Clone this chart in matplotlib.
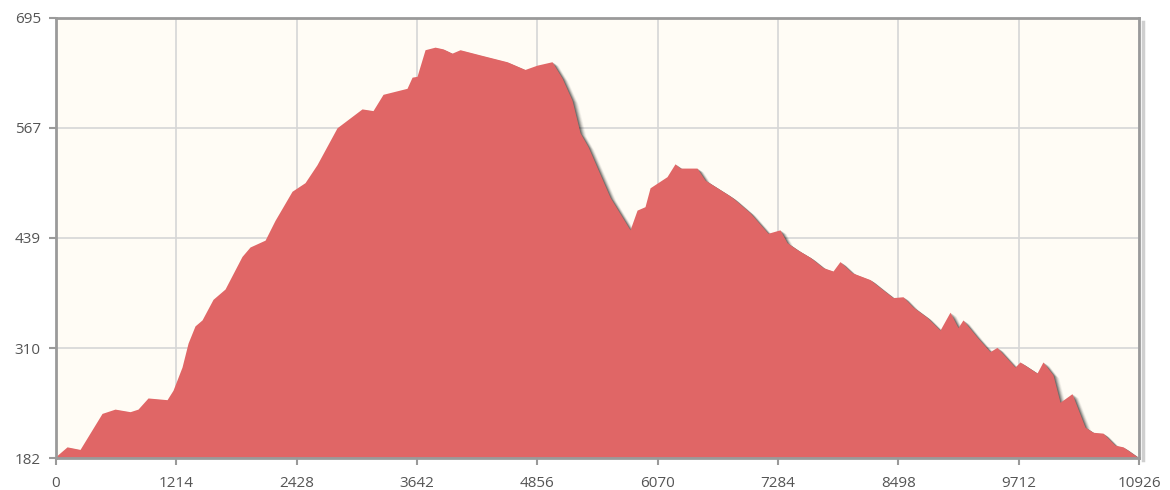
import matplotlib.pyplot as plt
import matplotlib.transforms as mtransforms

# Elevation profile (distance, elevation)
distance = [0, 111, 242, 464, 595, 747, 827, 928, 1120, 1180, 1271, 1332, 1402, 1473,
            1584, 1705, 1876, 1957, 2109, 2209, 2280, 2381, 2512, 2633, 2835, 3087,
            3198, 3299, 3541, 3592, 3642, 3723, 3824, 3904, 3995, 4076, 4277, 4550,
            4731, 4853, 5004, 5105, 5206, 5287, 5367, 5589, 5791, 5862, 5942, 5993,
            6164, 6245, 6295, 6467, 6547, 6780, 6830, 7001, 7183, 7304, 7375, 7476,
            7607, 7738, 7839, 7909, 8031, 8212, 8343, 8444, 8545, 8646, 8787, 8918,
            9019, 9100, 9150, 9292, 9423, 9493, 9675, 9725, 9897, 9957, 10058, 10129,
            10250, 10381, 10462, 10563, 10684, 10765, 10926]
elevation = [184, 195, 192, 234, 239, 236, 239, 252, 250, 261, 288, 316, 336, 343,
             367, 379, 417, 428, 436, 459, 473, 493, 503, 524, 567, 589,
             587, 606, 613, 626, 627, 658, 661, 659, 654, 658, 652, 644,
             635, 640, 644, 625, 599, 561, 545, 486, 448, 471, 475, 497,
             510, 525, 520, 520, 506, 489, 485, 468, 444, 448, 433, 425,
             416, 404, 400, 411, 398, 390, 378, 369, 370, 358, 346, 331,
             352, 334, 343, 323, 306, 311, 288, 294, 281, 294, 279, 247,
             257, 218, 212, 211, 197, 195, 182]

x_ticks = [0, 1214, 2428, 3642, 4856, 6070, 7284, 8498, 9712, 10926]
y_ticks = [182, 310, 439, 567, 695]

plt.rcParams['font.family'] = ['Open Sans', 'DejaVu Sans']

fig = plt.figure(figsize=(11.7, 4.9), dpi=100)
ax = fig.add_axes([0.0479, 0.0653, 0.9256, 0.898])
ax.set_facecolor('#fffcf5')

# soft drop shadow under the area
for i, a in zip([1, 2, 3, 4, 5, 6], [0.22, 0.18, 0.14, 0.10, 0.07, 0.04]):
    tr = mtransforms.offset_copy(ax.transData, fig=fig, x=i, y=-i * 0.6, units='dots')
    ax.fill_between(distance, 182, elevation, color='black', alpha=a,
                    linewidth=0, transform=tr, zorder=2)

ax.fill_between(distance, 182, elevation, color='#e06666', linewidth=0, zorder=3)

ax.set_xlim(0, 10926)
ax.set_ylim(182, 695)
ax.set_xticks(x_ticks)
ax.set_yticks(y_ticks)
ax.grid(True, color='#d6d6d6', linewidth=1.2, zorder=1)
ax.set_axisbelow(True)

for s in ax.spines.values():
    s.set_color('#9a9a9a')
    s.set_linewidth(2)
    s.set_zorder(4)

# faint shadow along the right frame edge
ax.plot([1.004, 1.004], [-0.005, 0.99], transform=ax.transAxes, color='#cfcfcf',
        linewidth=2.5, clip_on=False, zorder=0)

ax.tick_params(axis='both', colors='#9a9a9a', labelcolor='#555555',
               labelsize=11, length=5, width=1.5)
ax.tick_params(axis='x', pad=8)
ax.tick_params(axis='y', pad=6)

fig.savefig('out.png', dpi=100, facecolor='white')
